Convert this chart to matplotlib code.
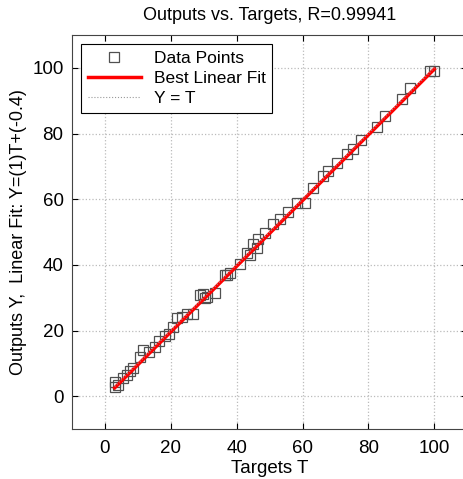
import numpy as np
import matplotlib.pyplot as plt

plt.rcParams['font.family'] = ['Liberation Sans', 'DejaVu Sans']

# targets and network outputs
targets = [3.0, 3.2, 4.0, 5.5, 6.7, 7.5, 8.5, 10.6, 11.6, 13.5, 15.2, 16.5,
           18.2, 19.5, 20.7, 21.9, 23.4, 24.9, 26.7, 28.8, 29.8, 30.4, 31.0,
           33.4, 36.5, 37.2, 38.0, 41.0, 43.0, 44.0, 45.0, 46.2, 46.5, 48.6,
           51.0, 53.2, 55.7, 58.4, 60.8, 63.2, 66.3, 67.8, 70.5, 73.6, 75.4,
           77.8, 82.7, 85.0, 90.3, 92.7, 98.8, 100.0]
outputs = [2.7, 4.3, 3.3, 5.6, 6.4, 7.6, 8.5, 11.9, 14.0, 13.6, 14.9, 16.7,
           18.5, 19.0, 21.0, 23.7, 24.0, 25.2, 25.2, 30.8, 31.3, 29.8, 30.2,
           31.6, 36.8, 37.0, 37.4, 40.4, 43.5, 42.9, 46.5, 45.3, 48.0, 49.8,
           52.6, 54.1, 56.0, 58.7, 59.0, 63.5, 67.2, 68.7, 71.1, 73.9, 75.4,
           78.1, 82.0, 85.4, 90.6, 93.9, 99.1, 99.1]
r_value = 0.99941
slope = 1
intercept = -0.4

t = np.array(targets)
fit_x = np.array([t.min(), t.max()])
fit_y = slope * fit_x + intercept

fig = plt.figure(figsize=(4.64, 4.79), dpi=100)
ax = fig.add_axes([0.155, 0.104, 0.852, 0.823])

ax.plot(targets, outputs, 's', markersize=7, markerfacecolor='none',
        markeredgecolor='#505050', markeredgewidth=0.9, label='Data Points')
ax.plot(fit_x, fit_y, '-', color='red', linewidth=2.5, label='Best Linear Fit')
ax.plot(fit_x, fit_x, ':', color='#999999', linewidth=0.8, label='Y = T')

ax.set_xlim(-10, 110)
ax.set_ylim(-10, 110)
ax.set_xticks([0, 20, 40, 60, 80, 100])
ax.set_yticks([0, 20, 40, 60, 80, 100])
ax.grid(True, linestyle=':', color='#bbbbbb', linewidth=0.9)
ax.tick_params(direction='in', top=True, right=True, labelsize=13.5, length=4)
ax.tick_params(axis='x', pad=8)
ax.tick_params(axis='y', pad=6)
for s in ax.spines.values():
    s.set_color('#444444')

ax.set_title('Outputs vs. Targets, R=%.5f' % r_value, fontsize=13, pad=11)
ax.set_xlabel('Targets T', fontsize=13.5, labelpad=2)
ax.set_ylabel('Outputs Y,  Linear Fit: Y=(%d)T+(%.1f)' % (slope, intercept), fontsize=13)

leg = ax.legend(loc='upper left', fontsize=12.5, frameon=True, fancybox=False,
                edgecolor='black', framealpha=1, borderaxespad=0.5,
                handlelength=3.1, handletextpad=0.7, labelspacing=0.3,
                borderpad=0.4)
leg.get_frame().set_linewidth(0.8)

fig.savefig('out.png')
